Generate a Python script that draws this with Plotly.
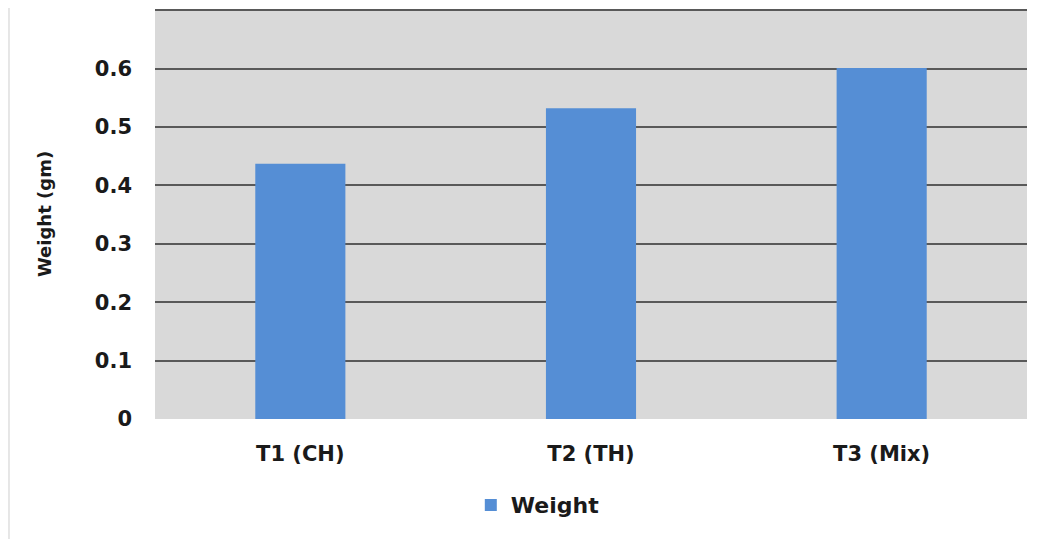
import plotly.graph_objects as go

categories = ["T1 (CH)", "T2 (TH)", "T3 (Mix)"]
weights = [0.437, 0.532, 0.601]
y_ticks = [0, 0.1, 0.2, 0.3, 0.4, 0.5, 0.6, 0.7]
y_tick_labels = ["0", "0.1", "0.2", "0.3", "0.4", "0.5", "0.6", "0.7"]

FONT = "DejaVu Sans"
TXT = "#1a1a1a"

fig = go.Figure()
fig.add_trace(go.Bar(
    x=categories, y=weights, name="Weight",
    marker=dict(color="#558ed5", line=dict(width=0)),
    width=0.31,
))

# note: the page body has an 8px default margin, margins below compensate
fig.update_layout(
    width=1040, height=539,
    margin=dict(l=147, r=21, t=1, b=128),
    paper_bgcolor="white",
    plot_bgcolor="#d9d9d9",
    font=dict(family=FONT, size=18, color=TXT),
    showlegend=True,
    legend=dict(orientation="h", x=0.439, xanchor="center", y=-0.21, yanchor="middle",
                font=dict(family=FONT, size=22, color=TXT, weight="bold")),
    xaxis=dict(showgrid=False, zeroline=False, showline=False, ticks="",
               automargin=False, ticklabelstandoff=20,
               tickfont=dict(family=FONT, size=21, weight="bold", color=TXT)),
    yaxis=dict(range=[0, 0.702], tickvals=y_ticks, ticktext=y_tick_labels,
               showgrid=True, gridcolor="#595959", gridwidth=2,
               zeroline=False, showline=False, ticks="", ticklen=0,
               automargin=False, ticklabelstandoff=22,
               tickfont=dict(family=FONT, size=21, weight="bold", color=TXT),
               title=dict(text="Weight (gm)", standoff=38,
                          font=dict(family=FONT, size=18, weight="bold", color=TXT))),
)

fig.add_shape(type="line", xref="paper", yref="paper",
              x0=-0.1675, x1=-0.1675, y0=1.01, y1=-0.31,
              line=dict(color="#e6e6e6", width=2))

fig.write_html("out.html")
